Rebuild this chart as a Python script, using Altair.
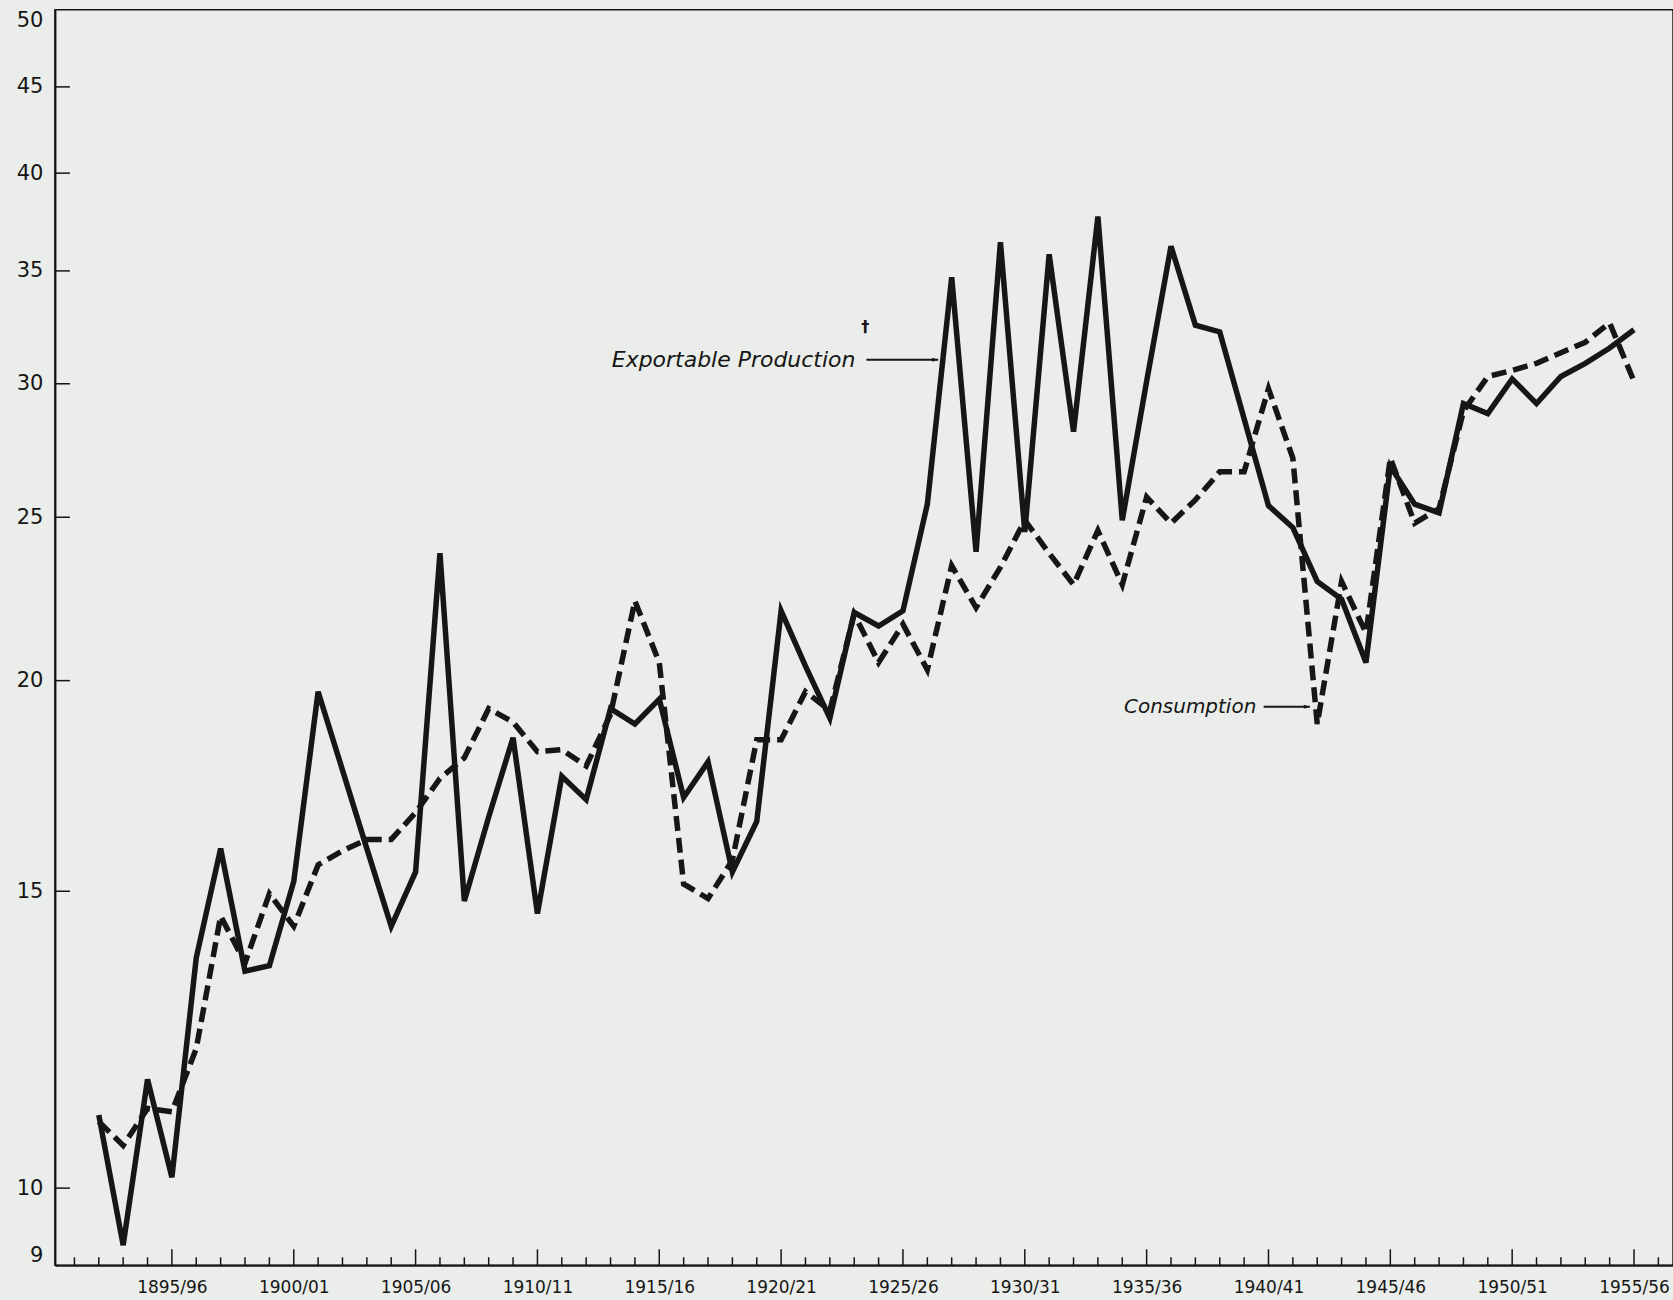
import altair as alt
import pandas as pd

# Crop years 1892/93 ... 1955/56 (keyed by the first calendar year)
years = list(range(1892, 1956))

exportable_production = [
    11.05, 9.25, 11.6, 10.15, 13.7, 15.9, 13.45, 13.55, 15.2, 19.7,
    17.7, 15.9, 14.3, 15.4, 23.8, 14.8, 16.6, 18.5, 14.55, 17.55,
    17.0, 19.25, 18.85, 19.5, 17.05, 17.9, 15.4, 16.5, 22.0, 20.4,
    19.0, 21.95, 21.55, 22.0, 25.45, 34.7, 23.85, 36.4, 24.5, 35.8,
    28.1, 37.7, 24.9, 30.1, 36.2, 32.5, 32.2, 28.6, 25.4, 24.65,
    22.9, 22.35, 20.5, 26.8, 25.45, 25.15, 29.2, 28.8, 30.2, 29.2,
    30.3, 30.85, 31.5, 32.3,
]

consumption = [
    10.95, 10.6, 11.15, 11.1, 12.1, 14.5, 13.6, 14.95, 14.3, 15.55,
    15.85, 16.1, 16.1, 16.7, 17.5, 18.0, 19.25, 18.9, 18.15, 18.2,
    17.8, 19.1, 22.3, 20.5, 15.15, 14.85, 15.65, 18.45, 18.45, 19.7,
    19.2, 21.9, 20.5, 21.6, 20.3, 23.4, 22.1, 23.35, 24.9, 23.8,
    22.8, 24.55, 22.8, 25.7, 24.8, 25.6, 26.6, 26.6, 29.8, 27.1,
    18.85, 22.9, 21.35, 27.1, 24.8, 25.3, 28.9, 30.3, 30.55, 30.85,
    31.3, 31.75, 32.6, 30.1,
]

# Axis labelling
x_label_years = [1895, 1900, 1905, 1910, 1915, 1920, 1925, 1930, 1935, 1940, 1945, 1950, 1955]
x_label_text = ["1895/96", "1900/01", "1905/06", "1910/11", "1915/16", "1920/21", "1925/26",
                "1930/31", "1935/36", "1940/41", "1945/46", "1950/51", "1955/56"]
year_ticks = list(range(1891, 1957))
y_label_values = [9, 10, 15, 20, 25, 30, 35, 40, 45, 50]
y_tick_values = [10, 15, 20, 25, 30, 35, 40, 45]

# Curve labels, their leader arrows and the footnote mark
label_text = ["Exportable Production", "Consumption"]
label_size = [22, 20]
label_year = [1923.05, 1939.5]
label_value = [31.0, 19.3]
arrow_from = [1923.5, 1939.8]
arrow_to = [1926.45, 1941.7]
dagger_year = [1923.45]
dagger_value = [32.4]

W, H = 1620, 1257
INK = "#161616"
PAPER = "#eaede9"
FONT = "DejaVu Sans"

x_scale = alt.Scale(domain=[1890.2, 1956.6], nice=False, zero=False)
y_scale = alt.Scale(type="log", domain=[9, 50], nice=False)

label_expr = " : ".join(
    f"datum.value == {y} ? '{t}'" for y, t in zip(x_label_years, x_label_text)
) + " : ''"

x_axis = alt.Axis(
    values=x_label_years, labelExpr=label_expr, title=None, grid=False,
    ticks=False, tickSize=0, domain=True, domainColor=INK, domainWidth=2,
    labelFont=FONT, labelFontSize=17, labelColor=INK, labelPadding=14,
    labelFlush=False,
)
y_axis = alt.Axis(
    values=y_label_values, format="d", title=None, grid=False,
    ticks=False, tickSize=0, domain=True, domainColor=INK, domainWidth=2,
    labelFont=FONT, labelFontSize=21, labelColor=INK, labelPadding=12,
    labelFlush=True,
)

series = pd.DataFrame({
    "year": years,
    "exportable": exportable_production,
    "consumption": consumption,
})

solid = alt.Chart(series).mark_line(
    color=INK, strokeWidth=5.5, strokeJoin="miter", strokeCap="butt"
).encode(
    x=alt.X("year:Q", scale=x_scale, axis=x_axis, title=None),
    y=alt.Y("exportable:Q", scale=y_scale, axis=y_axis, title=None),
)

dashed = alt.Chart(series).mark_line(
    color=INK, strokeWidth=5.5, strokeDash=[15, 7], strokeJoin="miter", strokeCap="butt"
).encode(
    x=alt.X("year:Q", title=None),
    y=alt.Y("consumption:Q", title=None),
)

# Year ticks along the bottom axis, pointing into the plot
tick_df = pd.DataFrame({"year": year_ticks})
minor_ticks = alt.Chart(tick_df).transform_filter(
    "datum.year % 5 != 0"
).mark_rule(color=INK, strokeWidth=1.5).encode(
    x=alt.X("year:Q", title=None), y=alt.value(H), y2=alt.value(H - 8)
)
major_ticks = alt.Chart(tick_df).transform_filter(
    "datum.year % 5 == 0"
).mark_rule(color=INK, strokeWidth=1.5).encode(
    x=alt.X("year:Q", title=None), y=alt.value(H), y2=alt.value(H - 16)
)

# Value ticks along the left axis, pointing into the plot
ytick_df = pd.DataFrame({"value": y_tick_values})
y_ticks = alt.Chart(ytick_df).mark_rule(color=INK, strokeWidth=1.5).encode(
    y=alt.Y("value:Q", title=None), x=alt.value(0), x2=alt.value(15)
)

labels_df = pd.DataFrame({
    "year": label_year, "value": label_value, "label": label_text, "size": label_size,
})
labels = alt.Chart(labels_df).mark_text(
    align="right", baseline="middle", font=FONT, fontStyle="italic", color=INK
).encode(
    x=alt.X("year:Q", title=None), y=alt.Y("value:Q", title=None), text="label:N",
    size=alt.Size("size:Q", scale=None, legend=None),
)

arrows_df = pd.DataFrame({"x0": arrow_from, "x1": arrow_to, "value": label_value})
arrow_shafts = alt.Chart(arrows_df).mark_rule(color=INK, strokeWidth=2).encode(
    x=alt.X("x0:Q", title=None), x2="x1:Q", y=alt.Y("value:Q", title=None)
)
arrow_heads = alt.Chart(arrows_df).mark_point(
    shape="M-1,-0.33L0,0L-1,0.33Z", filled=True, size=150, color=INK, opacity=1
).encode(
    x=alt.X("x1:Q", title=None), y=alt.Y("value:Q", title=None)
)

dagger_df = pd.DataFrame({"year": dagger_year, "value": dagger_value, "mark": ["\u2020"]})
dagger = alt.Chart(dagger_df).mark_text(
    font=FONT, fontSize=16, fontWeight="bold", color=INK, baseline="middle"
).encode(
    x=alt.X("year:Q", title=None), y=alt.Y("value:Q", title=None), text="mark:N"
)

chart = alt.layer(
    solid, dashed, minor_ticks, major_ticks, y_ticks,
    labels, arrow_shafts, arrow_heads, dagger,
).properties(
    width=W, height=H,
    autosize=alt.AutoSizeParams(type="none"),
    padding={"left": 55, "top": 9, "right": 0, "bottom": 34},
).configure(
    background=PAPER,
).configure_view(
    stroke=INK, strokeWidth=1.5, fill=None,
)

chart.save("out.html", embed_options={"renderer": "svg", "actions": False})
